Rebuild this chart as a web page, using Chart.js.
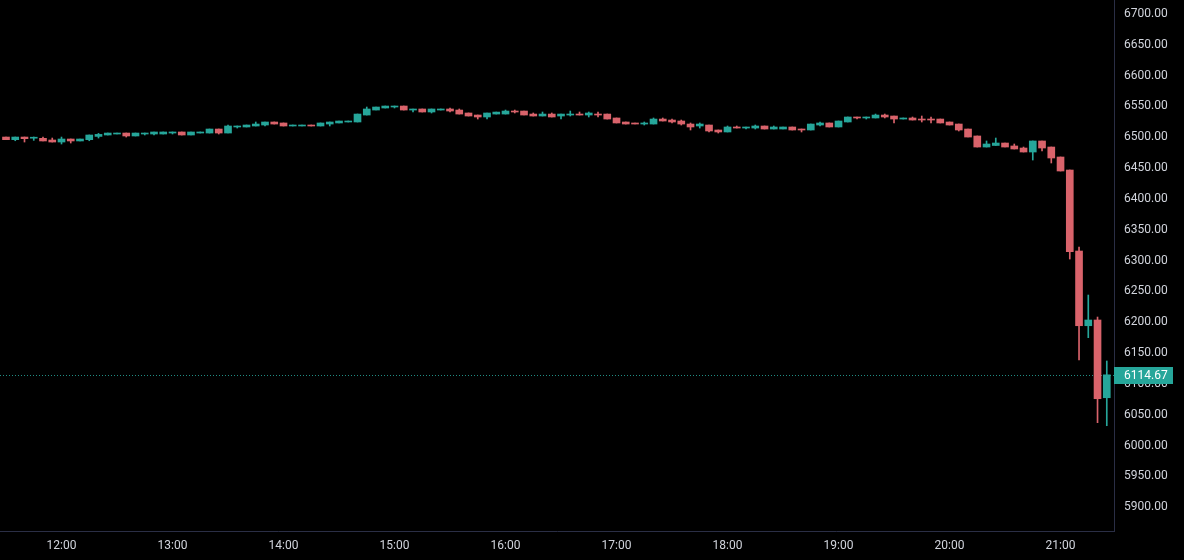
<!DOCTYPE html>
<html><head><meta charset="utf-8">
<script src="https://cdn.jsdelivr.net/npm/chart.js@4.4.1/dist/chart.umd.min.js"></script>
<style>html,body{margin:0;padding:0;background:#000;overflow:hidden}</style>
</head><body>
<canvas id="c" width="1184" height="560"></canvas>
<script>
// 5-minute candles, first candle 11:30, one row per hour
const opens = [
6500.4,6496.1,6500.4,6498.5,6498.3,6495.6,6492.3,6497.2,6494.0,6496.1,6501.4,6503.7,
6505.3,6506.9,6502.1,6505.3,6505.3,6505.3,6506.9,6508.6,6503.7,6506.9,6506.9,6513.4,
6506.9,6516.7,6516.7,6518.3,6519.9,6524.8,6523.2,6518.3,6518.3,6519.9,6518.3,6521.5,
6523.2,6524.8,6524.8,6536.1,6544.2,6547.5,6549.1,6550.7,6544.2,6545.9,6541.0,6544.2,
6545.9,6544.2,6539.4,6536.1,6532.9,6537.7,6537.7,6542.6,6542.6,6537.7,6534.5,6537.7,
6534.5,6536.1,6537.7,6536.1,6537.7,6537.7,6531.3,6524.8,6523.2,6521.5,6521.5,6529.6,
6528.0,6526.4,6521.5,6518.3,6519.9,6511.8,6508.6,6516.7,6515.0,6515.0,6518.3,6513.4,
6513.4,6516.7,6513.4,6511.8,6519.9,6523.2,6516.7,6524.8,6532.9,6531.3,6531.3,6536.1,
6534.5,6529.6,6531.3,6529.6,6529.6,6529.6,6524.8,6521.5,6513.4,6502.1,6484.2,6486.7,
6490.7,6485.9,6482.6,6476.1,6494.0,6484.2,6468.0,6446.9,6315.5,6194.3,6203.6,6077.5];
const highs = [
6500.4,6500.4,6500.4,6500.5,6500.4,6498.8,6500.4,6497.2,6497.2,6503.7,6506.3,6506.9,
6506.9,6506.9,6506.9,6506.9,6508.6,6508.6,6508.6,6508.6,6508.6,6508.6,6513.4,6513.4,
6519.9,6518.3,6519.9,6524.8,6524.8,6524.8,6523.2,6519.9,6519.9,6519.9,6523.2,6524.8,
6526.4,6526.4,6537.7,6549.1,6549.1,6550.7,6550.7,6550.7,6545.9,6545.9,6545.9,6545.9,
6547.5,6545.9,6539.4,6536.1,6539.4,6540.9,6544.2,6544.2,6542.6,6539.4,6541.0,6539.4,
6537.7,6542.6,6541.0,6541.0,6541.0,6537.7,6531.3,6524.8,6523.2,6524.8,6531.3,6531.3,
6529.6,6528.0,6523.2,6523.2,6519.9,6511.8,6518.3,6518.3,6516.7,6519.9,6518.3,6518.3,
6516.7,6516.7,6513.4,6521.5,6524.8,6523.2,6526.4,6532.9,6532.9,6532.9,6537.7,6537.7,
6534.5,6531.3,6532.9,6534.5,6532.9,6529.6,6524.8,6521.5,6513.4,6502.1,6494.0,6498.8,
6490.7,6489.1,6484.2,6494.0,6494.0,6484.2,6468.0,6446.9,6322.0,6244.1,6208.4,6137.1];
const lows = [
6496.1,6494.4,6492.3,6495.0,6494.0,6492.3,6489.1,6490.7,6494.0,6494.4,6498.8,6503.7,
6505.3,6500.4,6502.1,6503.7,6503.7,6505.3,6505.3,6503.7,6503.7,6506.9,6506.9,6505.3,
6506.9,6515.0,6516.7,6518.3,6518.3,6521.5,6518.3,6518.3,6518.3,6518.3,6518.3,6518.3,
6523.2,6524.8,6524.8,6536.1,6544.2,6547.5,6547.5,6544.2,6541.0,6541.0,6539.4,6544.2,
6541.0,6537.7,6534.5,6529.6,6529.6,6537.7,6537.7,6539.4,6536.1,6534.5,6534.5,6532.9,
6529.6,6534.5,6536.1,6532.9,6532.9,6529.6,6523.2,6521.5,6521.5,6519.9,6521.5,6526.4,
6523.2,6519.9,6511.8,6515.0,6508.6,6506.9,6508.6,6515.0,6513.4,6513.4,6513.4,6513.4,
6513.4,6511.8,6508.6,6511.8,6518.3,6516.7,6516.7,6524.8,6529.6,6529.6,6531.3,6531.3,
6523.2,6529.6,6528.0,6524.8,6523.2,6523.2,6519.9,6510.2,6500.4,6484.2,6484.2,6486.7,
6484.2,6481.0,6476.1,6463.1,6477.7,6458.3,6445.3,6302.5,6138.7,6174.9,6037.0,6032.1];
const closes = [
6496.1,6500.4,6497.7,6499.5,6494.0,6492.3,6497.2,6494.0,6497.2,6503.7,6504.7,6506.9,
6506.9,6502.1,6506.9,6506.9,6508.6,6508.6,6508.6,6503.7,6508.6,6508.6,6513.4,6506.9,
6518.3,6518.3,6519.9,6521.5,6524.8,6521.5,6518.3,6519.9,6519.9,6518.3,6523.2,6524.8,
6526.4,6526.4,6537.7,6545.9,6549.1,6550.7,6550.7,6544.2,6545.9,6541.0,6545.9,6545.9,
6542.6,6537.7,6534.5,6532.9,6539.4,6540.9,6542.6,6541.0,6536.1,6534.5,6537.7,6532.9,
6537.7,6537.7,6536.1,6539.4,6536.1,6529.6,6523.2,6521.5,6521.5,6523.2,6529.6,6526.4,
6524.8,6521.5,6516.7,6521.5,6510.2,6508.6,6516.7,6515.0,6516.7,6518.3,6513.4,6516.7,
6516.7,6511.8,6511.8,6521.5,6523.2,6516.7,6526.4,6532.9,6531.3,6532.9,6536.1,6532.9,
6529.6,6531.3,6528.0,6528.0,6528.0,6523.2,6519.9,6511.8,6500.4,6484.2,6489.1,6490.7,
6484.2,6481.0,6476.1,6494.0,6482.6,6466.4,6445.3,6314.4,6194.3,6203.6,6075.9,6114.67];

const timeTickLabels = ["12:00","13:00","14:00","15:00","16:00","17:00","18:00","19:00","20:00","21:00"];
const timeTickIndex  = [6,18,30,42,54,66,78,90,102,114];
const priceTicks = [5900,5950,6000,6050,6100,6150,6200,6250,6300,6350,6400,6450,6500,6550,6600,6650,6700];
const lastPrice = 6114.67;

const UP = '#26a69a', DOWN = '#d9636b';
const TEXT = '#d1d4dc', LINE = '#2a2e45';
const FONT = {family: 'Roboto, "Liberation Sans", sans-serif', size: 12};

const idx = opens.map((_, i) => i);
const colors = idx.map(i => closes[i] >= opens[i] ? UP : DOWN);

const lastPricePlugin = {
  id: 'lastPrice',
  beforeDatasetsDraw(chart) {
    const {ctx, chartArea, scales: {y}} = chart;
    const py = Math.round(y.getPixelForValue(lastPrice)) + 0.5;
    ctx.save();
    ctx.strokeStyle = 'rgba(38,166,154,0.85)';
    ctx.lineWidth = 1;
    ctx.setLineDash([1, 2]);
    ctx.beginPath(); ctx.moveTo(chartArea.left, py); ctx.lineTo(chartArea.right, py); ctx.stroke();
    ctx.restore();
  },
  afterDraw(chart) {
    const {ctx, chartArea, scales: {y}} = chart;
    const py = Math.round(y.getPixelForValue(lastPrice));
    ctx.save();
    ctx.fillStyle = UP;
    ctx.fillRect(chartArea.right, py - 8, 59, 17);
    ctx.fillStyle = '#ffffff';
    ctx.font = '12px ' + FONT.family;
    ctx.textBaseline = 'middle';
    ctx.textAlign = 'left';
    ctx.fillText(lastPrice.toFixed(2), chartArea.right + 10, py + 1);
    ctx.restore();
  }
};

new Chart(document.getElementById('c'), {
  type: 'bar',
  data: {
    datasets: [
      {
        label: 'wick',
        data: idx.map(i => ({x: i, y: [lows[i], highs[i]]})),
        backgroundColor: colors,
        borderWidth: 0,
        barThickness: 1,
        grouped: false,
        order: 2
      },
      {
        label: 'body',
        data: idx.map(i => ({x: i, y: [opens[i], closes[i]]})),
        backgroundColor: colors,
        borderWidth: 0,
        barThickness: 7,
        minBarLength: 1,
        grouped: false,
        order: 1
      }
    ]
  },
  options: {
    responsive: false,
    animation: false,
    devicePixelRatio: 1,
    layout: {padding: 0},
    plugins: {legend: {display: false}, tooltip: {enabled: false}},
    scales: {
      x: {
        type: 'linear',
        position: 'bottom',
        offset: false,
        min: -0.6486,
        max: 119.78,
        grid: {display: false, drawTicks: false, tickLength: 0},
        border: {display: true, color: LINE, width: 1},
        afterBuildTicks: s => { s.ticks = timeTickIndex.map(v => ({value: v})); },
        afterFit: s => { s.height = 29; s.paddingLeft = 0; s.paddingRight = 0; },
        ticks: {
          autoSkip: false, maxRotation: 0, color: TEXT, font: FONT, padding: 8,
          callback: v => timeTickLabels[timeTickIndex.indexOf(v)]
        }
      },
      y: {
        type: 'linear',
        position: 'right',
        min: 5861.3,
        max: 6722.7,
        grid: {display: false, drawTicks: false, tickLength: 0},
        border: {display: true, color: LINE, width: 1},
        afterBuildTicks: s => { s.ticks = priceTicks.map(v => ({value: v})); },
        afterFit: s => { s.width = 70; s.paddingTop = 0; s.paddingBottom = 0; },
        ticks: {color: TEXT, font: FONT, padding: 10, callback: v => v.toFixed(2)}
      }
    }
  },
  plugins: [lastPricePlugin]
});
</script>
</body></html>
